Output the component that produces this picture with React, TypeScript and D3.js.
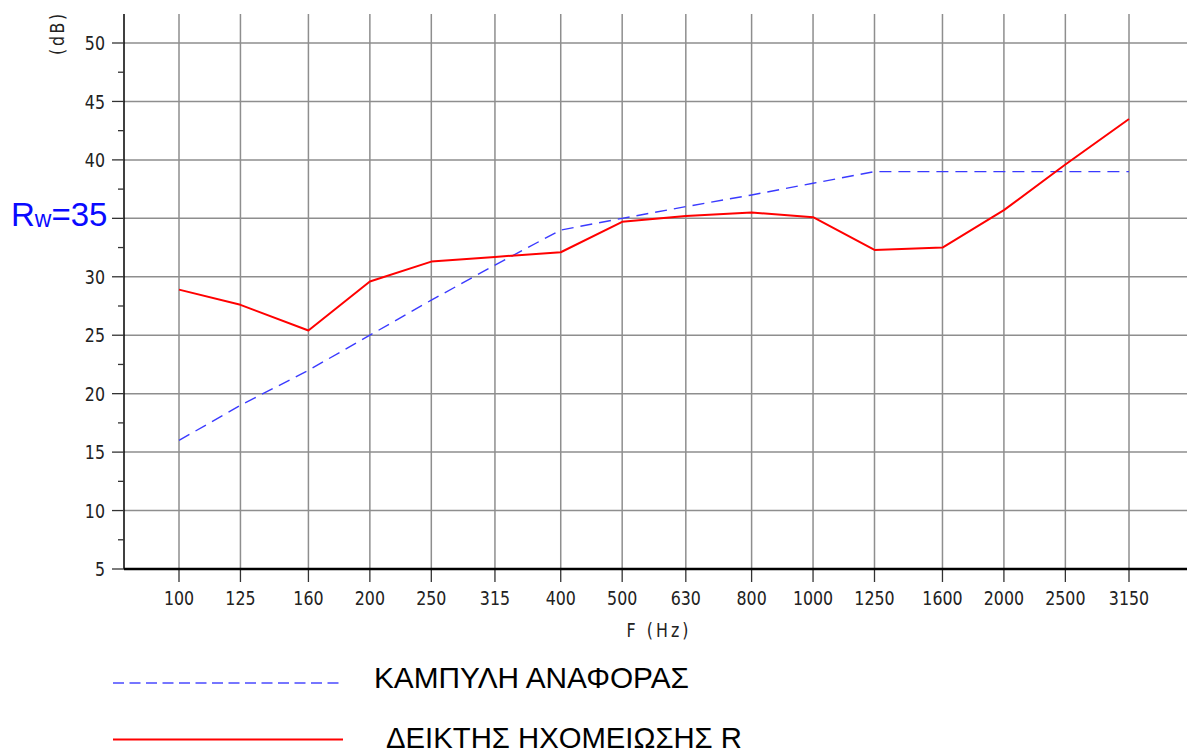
import React from "react";
import * as d3 from "d3";

// Third-octave band centre frequencies (Hz)
const frequencies = [100, 125, 160, 200, 250, 315, 400, 500, 630, 800, 1000, 1250, 1600, 2000, 2500, 3150];
// Shifted reference curve (dB)
const referenceCurve = [16, 19, 22, 25, 28, 31, 34, 35, 36, 37, 38, 39, 39, 39, 39, 39];
// Measured sound reduction index R (dB)
const measuredR = [28.9, 27.6, 25.4, 29.6, 31.3, 31.7, 32.1, 34.7, 35.2, 35.5, 35.1, 32.3, 32.5, 35.7, 39.6, 43.5];
// Y-axis gridline values (dB); the 35 dB line carries the rating label instead of a number
const yTicks = [5, 10, 15, 20, 25, 30, 35, 40, 45, 50];
const yLabelled = [5, 10, 15, 20, 25, 30, 40, 45, 50];
const yMinorTicks = [7.5, 12.5, 17.5, 22.5, 27.5, 32.5, 37.5, 42.5, 47.5];
const ratingLabel = { main: "R", sub: "w", rest: "=35" };
const legendItems = ["ΚΑΜΠΥΛΗ ΑΝΑΦΟΡΑΣ", "ΔΕΙΚΤΗΣ ΗΧΟΜΕΙΩΣΗΣ R"];

const W = 1187;
const H = 752;
const axisX = 124;
const plotTop = 14;
const axisY = 569;

const cadFont = "'DejaVu Sans Condensed', 'DejaVu Sans', sans-serif";
const arial = "'Liberation Sans', Arial, sans-serif";

export default function App() {
  const x = d3.scaleLog().domain([100, 3150]).range([179, 1129]);
  const y = d3.scaleLinear().domain([5, 50]).range([axisY, 43]);

  const line = d3
    .line<number>()
    .x((_, i) => x(frequencies[i]))
    .y((d) => y(d));

  const cadText = (
    key: string,
    tx: number,
    ty: number,
    label: string | number,
    anchor: "start" | "middle" | "end",
    extra: Record<string, unknown> = {}
  ) => (
    <text
      key={key}
      transform={`translate(${tx},${ty}) scale(0.88,1)`}
      dy="0.36em"
      textAnchor={anchor}
      fontFamily={cadFont}
      fontSize={20}
      fill="#222"
      {...extra}
    >
      {label}
    </text>
  );

  return (
    <svg
      width={W}
      height={H}
      style={{ position: "absolute", left: 0, top: 0, background: "#fff" }}
    >
      {/* horizontal grid */}
      {yTicks.map((t) => (
        <line key={"hg" + t} x1={axisX} x2={W} y1={y(t)} y2={y(t)} stroke="#8e8e8e" strokeWidth={1.5} />
      ))}
      {/* vertical grid */}
      {frequencies.map((f) => (
        <line key={"vg" + f} x1={x(f)} x2={x(f)} y1={plotTop} y2={axisY} stroke="#8e8e8e" strokeWidth={1.5} />
      ))}
      {/* x ticks */}
      {frequencies.map((f) => (
        <line key={"xt" + f} x1={x(f)} x2={x(f)} y1={axisY} y2={582} stroke="#333" strokeWidth={1.3} />
      ))}
      {/* y axis */}
      <line x1={axisX} x2={axisX} y1={plotTop} y2={axisY} stroke="#000" strokeWidth={1.5} />
      {yTicks.map((t) => (
        <line key={"yt" + t} x1={112} x2={axisX} y1={y(t)} y2={y(t)} stroke="#333" strokeWidth={1.3} />
      ))}
      {yMinorTicks.map((t) => (
        <line key={"ym" + t} x1={118} x2={axisX} y1={y(t)} y2={y(t)} stroke="#333" strokeWidth={1.3} />
      ))}
      {/* x axis */}
      <line x1={axisX} x2={W} y1={axisY} y2={axisY} stroke="#000" strokeWidth={2.5} />

      {/* tick labels */}
      {yLabelled.map((t) => cadText("yl" + t, 105, y(t), t, "end"))}
      {frequencies.map((f) => cadText("xl" + f, x(f), 598, f, "middle"))}
      <text
        transform="translate(57,33) rotate(-90) scale(0.88,1)"
        textAnchor="middle"
        dy="0.36em"
        fontFamily={cadFont}
        fontSize={20}
        letterSpacing={3}
        fill="#222"
      >
        (dB)
      </text>
      {cadText("xtitle", 659, 630, "F (Hz)", "middle", { letterSpacing: 3.5 })}

      {/* curves */}
      <path d={line(referenceCurve) || ""} fill="none" stroke="#3a3aff" strokeWidth={1.4} strokeDasharray="12 7" />
      <path d={line(measuredR) || ""} fill="none" stroke="#ff0000" strokeWidth={2} strokeLinejoin="round" />

      {/* rating label */}
      <text x={11} y={226} fontFamily={arial} fontSize={33} fill="#0a0aff">
        {ratingLabel.main}
        <tspan fontSize={23} dy={1}>
          {ratingLabel.sub}
        </tspan>
        <tspan fontSize={33} dy={-1}>
          {ratingLabel.rest}
        </tspan>
      </text>

      {/* legend */}
      <line x1={113} x2={343} y1={683} y2={683} stroke="#4a4aff" strokeWidth={1.4} strokeDasharray="11 5.5" />
      <text x={374} y={688} fontFamily={arial} fontSize={29.5} fill="#000" textLength={315} lengthAdjust="spacingAndGlyphs">
        {legendItems[0]}
      </text>
      <line x1={113} x2={343} y1={739.5} y2={739.5} stroke="#ff0000" strokeWidth={2} />
      <text x={386} y={748} fontFamily={arial} fontSize={29.5} fill="#000" textLength={356} lengthAdjust="spacingAndGlyphs">
        {legendItems[1]}
      </text>
    </svg>
  );
}
